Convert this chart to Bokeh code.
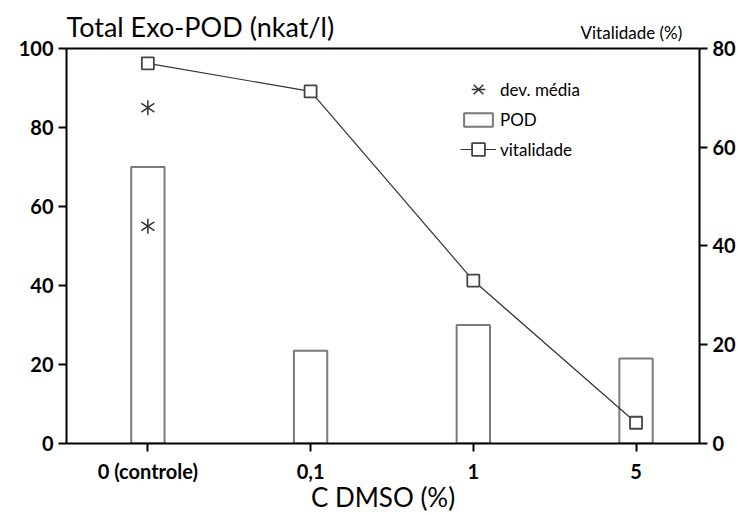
from bokeh.plotting import figure
from bokeh.models import (Range1d, LinearAxis, FixedTicker, Label, Legend, LegendItem,
                          ColumnDataSource, Span)
from bokeh.embed import file_html
from bokeh.resources import INLINE
from math import pi

# ---- data ----
categories = ["0 (controle)", "0,1", "1", "5"]
pod_values = [70, 23.5, 30, 21.5]
vitalidade = [77, 71.3, 33, 4.2]
dev_cat = [0, 0]
dev_values = [85, 55]
left_ticks = [0, 20, 40, 60, 80, 100]
right_ticks = [0, 20, 40, 60, 80]
pod_max = 100
vit_max = 80

xpos = list(range(len(categories)))
FONT = "Lato"
HEADROOM = 1.1215  # frame extends above the top tick to hold the titles

p = figure(width=738, height=515, output_backend="svg", toolbar_location=None,
           x_range=Range1d(-0.5, 3.39), y_range=Range1d(0, pod_max * HEADROOM),
           title_location=None,
           min_border_left=66, min_border_right=37, min_border_top=0,
           min_border_bottom=72)
p.extra_y_ranges = {"vit": Range1d(0, vit_max * HEADROOM)}
p.grid.visible = False
p.outline_line_color = None
p.background_fill_color = "white"
p.border_fill_color = "white"

# top frame line
p.add_layout(Span(location=pod_max, dimension="width", line_color="black",
                  line_width=2))

bar_src = ColumnDataSource(dict(x=xpos, top=pod_values))
r_bar = p.vbar(x="x", top="top", width=0.205, bottom=0, source=bar_src,
               fill_color="white", line_color="#7a7a7a", line_width=2)

dev_src = ColumnDataSource(dict(x=dev_cat, y=dev_values))
p.scatter(x="x", y="y", source=dev_src, marker="y", size=15,
          line_color="#333333", line_width=1.5)
p.scatter(x="x", y="y", source=dev_src, marker="y", size=15, angle=pi,
          line_color="#333333", line_width=1.5)

# legend-only glyphs for the star (hidden in the plot)
r_l1 = p.scatter(x="x", y="y", source=dev_src, marker="x", size=12,
                 line_color="#333333", line_width=1.5, visible=False)
r_l2 = p.scatter(x="x", y="y", source=dev_src, marker="dash", size=15,
                 line_color="#333333", line_width=1.5, visible=False)

vit_src = ColumnDataSource(dict(x=xpos, y=vitalidade))
r_line = p.line(x="x", y="y", source=vit_src, y_range_name="vit",
                line_color="#333333", line_width=1.2)
r_sq = p.scatter(x="x", y="y", source=vit_src, y_range_name="vit", marker="square",
                 size=12, fill_color="white", line_color="#444444", line_width=1.8)

def style_axis(ax):
    ax.axis_line_color = "black"
    ax.axis_line_width = 2
    ax.major_tick_line_color = "black"
    ax.major_tick_line_width = 2
    ax.major_tick_out = 8
    ax.major_tick_in = 0
    ax.minor_tick_line_color = None
    ax.major_label_text_font = FONT
    ax.major_label_text_font_style = "bold"
    ax.major_label_text_font_size = "20px"
    ax.major_label_text_color = "black"

# x axis
xa = p.xaxis[0]
style_axis(xa)
xa.ticker = FixedTicker(ticks=xpos)
xa.major_label_overrides = {i: c for i, c in zip(xpos, categories)}
xa.major_label_standoff = 7
xa.axis_label = "C DMSO (%)"
xa.axis_label_text_font = FONT
xa.axis_label_text_font_style = "normal"
xa.axis_label_text_font_size = "26px"
xa.axis_label_standoff = -5
xa.axis_label_text_color = "black"

# left y axis
ya = p.yaxis[0]
style_axis(ya)
ya.ticker = FixedTicker(ticks=left_ticks)
ya.bounds = (0, pod_max)
ya.major_label_standoff = 5

# right y axis
ra = LinearAxis(y_range_name="vit", ticker=FixedTicker(ticks=right_ticks),
                bounds=(0, vit_max))
style_axis(ra)
ra.major_label_standoff = 5
p.add_layout(ra, "right")

# titles
p.add_layout(Label(x=0, y=417, x_units="screen", y_units="screen",
                   text="Total Exo-POD (nkat/l)", text_font=FONT,
                   text_font_size="27px", text_color="black",
                   text_baseline="alphabetic"))
p.add_layout(Label(x=514, y=411, x_units="screen", y_units="screen",
                   text="Vitalidade (%)", text_font=FONT,
                   text_font_size="17px", text_color="black",
                   text_baseline="alphabetic"))

def make_legend(label, renderers, loc, gh):
    return Legend(items=[LegendItem(label=label, renderers=renderers)],
                  location=loc, glyph_width=36, glyph_height=gh, spacing=0,
                  label_standoff=4, padding=0, margin=0, border_line_color=None,
                  background_fill_alpha=0, inactive_fill_alpha=0,
                  label_text_font=FONT, label_text_font_size="17px",
                  label_text_color="black")

p.add_layout(make_legend("dev. média", [r_l1, r_l2], (394, 337), 34))
p.add_layout(make_legend("POD", [r_bar], (394, 313), 17))
p.add_layout(make_legend("vitalidade", [r_line, r_sq], (394, 278), 32))

open("out.html", "w").write(file_html(p, INLINE))
